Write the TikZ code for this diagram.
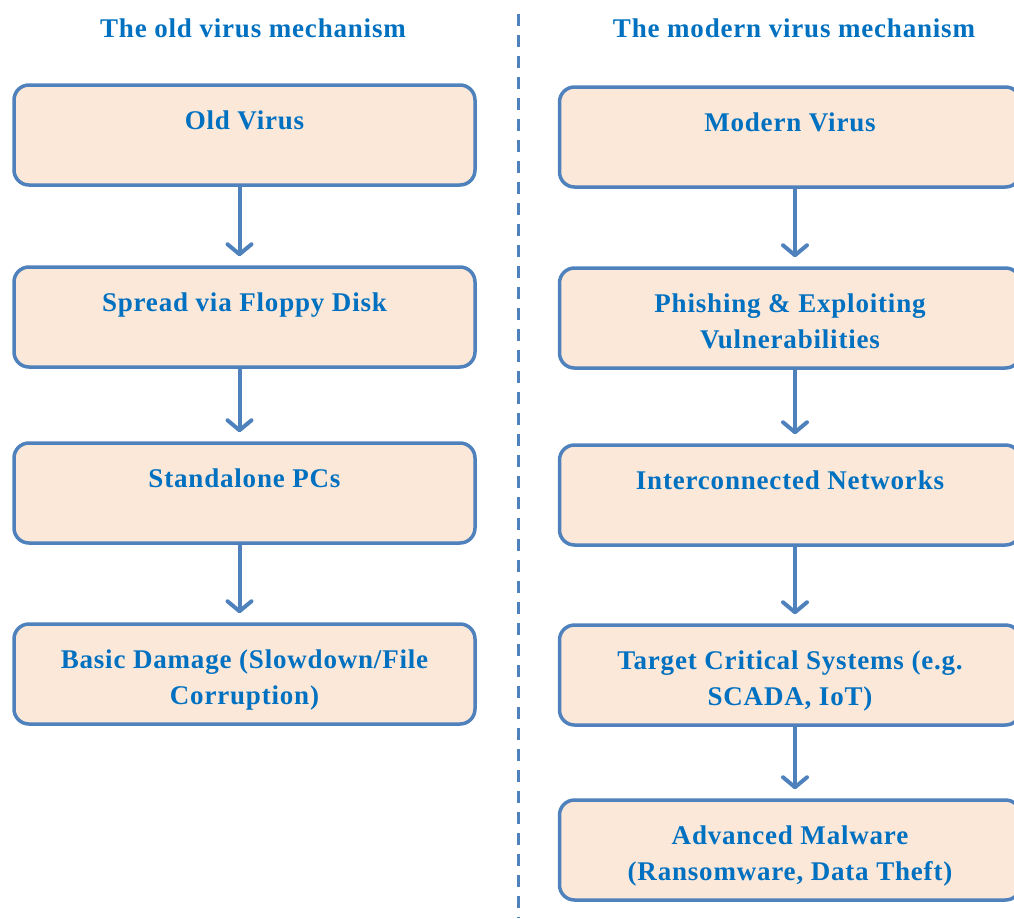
\documentclass[tikz,border=0pt]{standalone}
\usepackage{fontspec}
\setmainfont{Liberation Serif}[LetterSpace=3]
\usetikzlibrary{arrows.meta}
\definecolor{txtblue}{HTML}{0070C0}
\definecolor{edgeblue}{HTML}{4F81BD}
\definecolor{peach}{HTML}{FCE8D9}
\tikzset{
  stepbox/.style={draw=edgeblue, fill=peach, line width=3.5pt, rounded corners=15pt,
    inner sep=0pt, minimum height=100pt, minimum width=461pt, text=txtblue},
  heading/.style={text=txtblue, inner sep=0pt, font=\fontsize{27}{30}\selectfont\bfseries},
  flow/.style={draw=edgeblue, line width=4pt,
    -{Straight Barb[length=10pt,width=24pt,line cap=round,line join=round]}, shorten >=9pt},
  divider/.style={draw=edgeblue, line width=3pt, dash pattern=on 12pt off 9pt}
}
% box content: text hangs from a fixed offset below the top edge
\newcommand{\boxtext}[1]{\parbox[c][100pt][t]{450pt}{\vspace*{26pt}\centering
  \fontsize{27}{35.5}\selectfont\bfseries #1\par}}
\begin{document}
\begin{tikzpicture}[x=1pt,y=1pt]
\clip (0,0) rectangle (1014,-918);

% titles
\node[heading] (tl) at (253,-28) {The old virus mechanism};
\node[heading] (tr) at (794,-28) {The modern virus mechanism};

% dividing line
\coordinate (dtop) at (518,-14);
\coordinate (dbot) at (518,-918);
\draw[divider] (dtop) -- (dbot);

% old mechanism
\node[stepbox] (o1) at (244.5,-135) {\boxtext{Old Virus}};
\node[stepbox] (o2) at (244.5,-317) {\boxtext{Spread via Floppy Disk}};
\node[stepbox] (o3) at (244.5,-493) {\boxtext{Standalone PCs}};
\node[stepbox] (o4) at (244.5,-674) {\boxtext{Basic Damage (Slowdown/File\\Corruption)}};

% modern mechanism
\node[stepbox] (m1) at (790,-137) {\boxtext{Modern Virus}};
\node[stepbox] (m2) at (790,-318) {\boxtext{Phishing \& Exploiting\\Vulnerabilities}};
\node[stepbox] (m3) at (790,-495) {\boxtext{Interconnected Networks}};
\node[stepbox] (m4) at (790,-675) {\boxtext{Target Critical Systems (e.g.\\SCADA, IoT)}};
\node[stepbox] (m5) at (790,-850) {\boxtext{Advanced Malware\\(Ransomware, Data Theft)}};

% connectors
\foreach \a/\b in {o1/o2,o2/o3,o3/o4}
  \draw[flow] ([xshift=-5pt]\a.south) -- ([xshift=-5pt]\b.north);
\foreach \a/\b in {m1/m2,m2/m3,m3/m4,m4/m5}
  \draw[flow] ([xshift=5pt]\a.south) -- ([xshift=5pt]\b.north);
\end{tikzpicture}
\end{document}
